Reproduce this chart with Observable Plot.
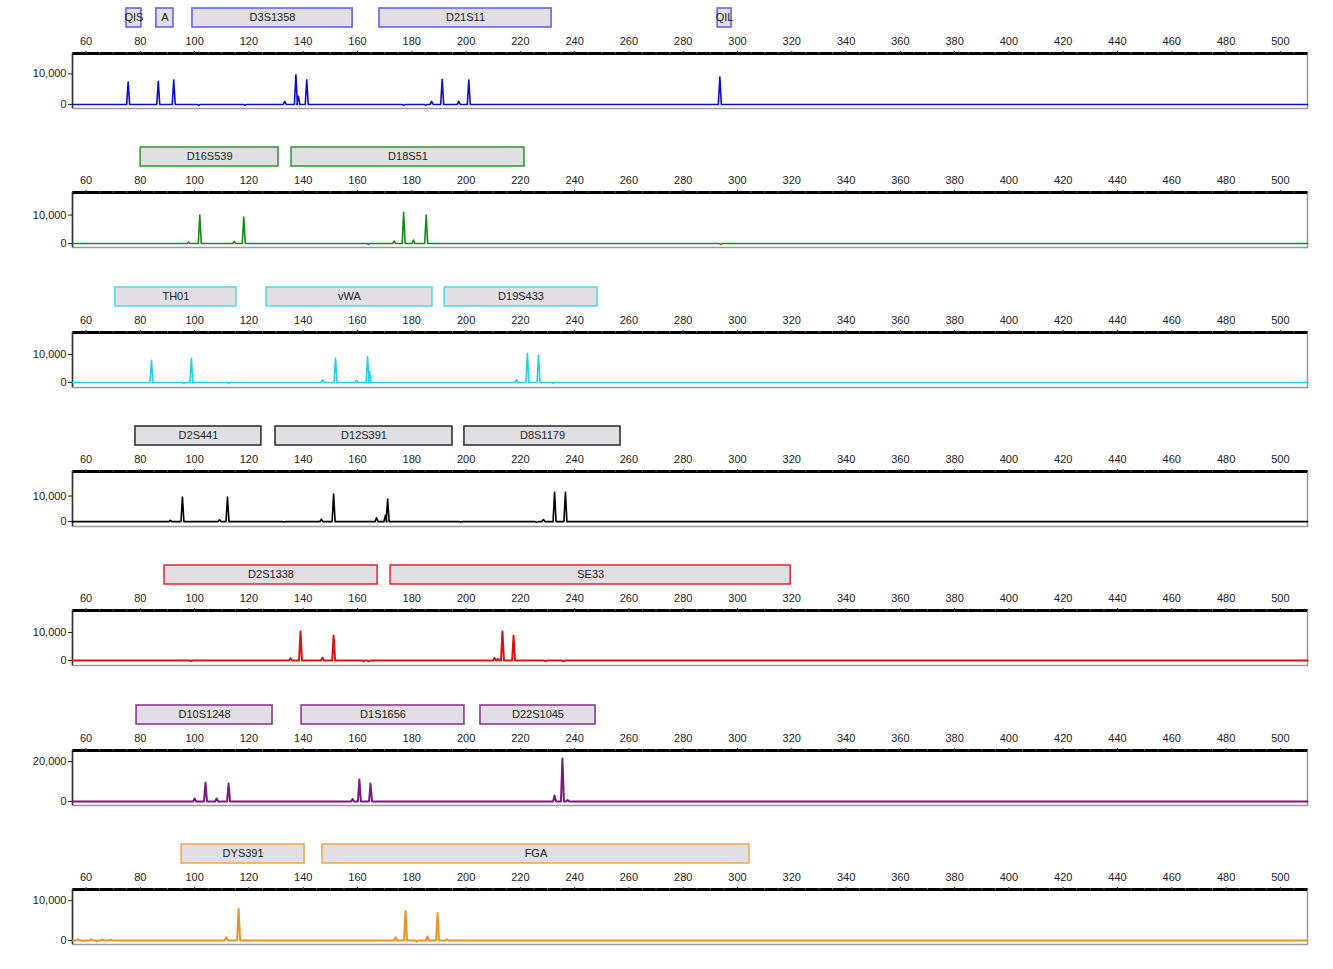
<!DOCTYPE html>
<html><head><meta charset="utf-8">
<script src="https://cdn.jsdelivr.net/npm/d3@7"></script>
<script src="https://cdn.jsdelivr.net/npm/@observablehq/plot@0.6"></script>
<style>
body{margin:0;background:#fff;}
#chart{position:relative;width:1333px;height:969px;overflow:hidden;}
#chart svg{position:absolute;left:0;}
</style></head><body><div id="chart"></div>
<script>
// ---- axis ticks ----
const sizeTicks = d3.range(60, 501, 20);
const minorTicks = d3.range(55, 511, 5);

// ---- panel 1 (blue) ----
const blueMarkerName  = ["QIS", "A", "D3S1358", "D21S11", "QIL"];
const blueMarkerStart = [74.9, 85.9, 99.2, 168.1, 292.7];
const blueMarkerEnd   = [80.4, 92.2, 158.2, 231.5, 297.8];
const bluePeakSize    = [75.5, 86.6, 92.3, 101.5, 118.5, 133.2, 137.3, 138.2, 141.3, 177.0, 185.1, 187.3, 191.2, 197.3, 201.0, 293.5];
const bluePeakHeight  = [7300, 7600, 8000, -300, -300, 1000, 9700, 2700, 8100, -300, -300, 1000, 8200, 1000, 8000, 9000];

// ---- panel 2 (green) ----
const greenMarkerName  = ["D16S539", "D18S51"];
const greenMarkerStart = [80.1, 135.7];
const greenMarkerEnd   = [130.9, 221.5];
const greenPeakSize    = [97.8, 101.9, 114.6, 118.1, 164.0, 173.5, 177.0, 180.6, 185.3, 293.8];
const greenPeakHeight  = [500, 10000, 800, 9300, -200, 900, 11000, 1200, 10000, -300];

// ---- panel 3 (cyan) ----
const cyanMarkerName  = ["TH01", "vWA", "D19S433"];
const cyanMarkerStart = [70.8, 126.5, 192.1];
const cyanMarkerEnd   = [115.4, 187.6, 248.4];
const cyanPeakSize    = [84.1, 95.9, 98.8, 112.5, 147.1, 151.9, 159.6, 163.7, 164.4, 218.6, 222.6, 226.7, 232.2];
const cyanPeakHeight  = [7900, -300, 8600, -300, 900, 8600, 800, 9300, 4000, 1000, 10400, 9600, -300];

// ---- panel 4 (black) ----
const blackMarkerName  = ["D2S441", "D12S391", "D8S1179"];
const blackMarkerStart = [78.2, 129.8, 199.4];
const blackMarkerEnd   = [124.6, 195.0, 256.9];
const blackPeakSize    = [91.1, 95.5, 109.2, 112.1, 133.0, 146.7, 151.2, 167.0, 170.3, 171.1, 198.0, 226.0, 228.5, 232.6, 236.6];
const blackPeakHeight  = [500, 9600, 700, 9600, -200, 1000, 10800, 1500, 2500, 8800, -200, -300, 800, 11500, 11500];

// ---- panel 5 (red) ----
const redMarkerName  = ["D2S1338", "SE33"];
const redMarkerStart = [88.9, 172.2];
const redMarkerEnd   = [167.4, 319.6];
const redPeakSize    = [98.8, 135.3, 139.0, 147.1, 151.2, 162.2, 164.1, 210.5, 211.8, 213.4, 217.5, 229.3, 235.9];
const redPeakHeight  = [-200, 800, 10400, 1000, 8900, -300, -300, 900, 500, 10400, 8900, -300, -300];

// ---- panel 6 (purple) ----
const purpleMarkerName  = ["D10S1248", "D1S1656", "D22S1045"];
const purpleMarkerStart = [78.6, 139.4, 205.3];
const purpleMarkerEnd   = [128.7, 199.4, 247.7];
const purplePeakSize    = [100.0, 104.0, 108.1, 112.5, 158.2, 160.7, 164.8, 232.6, 235.5, 237.4];
const purplePeakHeight  = [1500, 9500, 1500, 9000, 1200, 11000, 9000, 3000, 21500, 700];

// ---- panel 7 (orange) ----
const orangeMarkerName  = ["DYS391", "FGA"];
const orangeMarkerStart = [95.2, 147.1];
const orangeMarkerEnd   = [140.5, 304.4];
const orangePeakSize    = [57, 59, 62, 64, 66, 69, 111.7, 116.2, 174.0, 177.7, 181.8, 185.8, 189.5, 193.0];
const orangePeakHeight  = [300, -200, 300, -200, 300, 200, 800, 7900, 800, 7400, -300, 1000, 6900, 300];

// ---- build panels ----
function markers(names, starts, ends) {
  return names.map((name, i) => ({name, start: starts[i], end: ends[i]}));
}
function trace(sizes, heights) {
  const w = 0.55;
  const pk = sizes.map((s, i) => ({s, h: heights[i]})).sort((a, b) => a.s - b.s);
  const pts = [{x: 55, y: 0}];
  for (const p of pk) pts.push({x: p.s - w, y: 0}, {x: p.s, y: p.h}, {x: p.s + w, y: 0});
  pts.push({x: 510, y: 0});
  return pts;
}

const panels = [
  {m: markers(blueMarkerName, blueMarkerStart, blueMarkerEnd), t: trace(bluePeakSize, bluePeakHeight),
   color: "#0c0cd0", box: "#6464ec", sw: 1.6, y: [-1333, 16667], yt: [0, 10000]},
  {m: markers(greenMarkerName, greenMarkerStart, greenMarkerEnd), t: trace(greenPeakSize, greenPeakHeight),
   color: "#168a16", box: "#3a9a3a", sw: 1.6, y: [-1379, 17931], yt: [0, 10000]},
  {m: markers(cyanMarkerName, cyanMarkerStart, cyanMarkerEnd), t: trace(cyanPeakSize, cyanPeakHeight),
   color: "#1ed2ea", box: "#5cd6ea", sw: 1.6, y: [-1786, 17857], yt: [0, 10000]},
  {m: markers(blackMarkerName, blackMarkerStart, blackMarkerEnd), t: trace(blackPeakSize, blackPeakHeight),
   color: "#000000", box: "#333333", sw: 1.6, y: [-1923, 19615], yt: [0, 10000]},
  {m: markers(redMarkerName, redMarkerStart, redMarkerEnd), t: trace(redPeakSize, redPeakHeight),
   color: "#e01010", box: "#e63038", sw: 2, y: [-1786, 17857], yt: [0, 10000]},
  {m: markers(purpleMarkerName, purpleMarkerStart, purpleMarkerEnd), t: trace(purplePeakSize, purplePeakHeight),
   color: "#7c1a7c", box: "#8c3a8c", sw: 2, y: [-2000, 25500], yt: [0, 20000]},
  {m: markers(orangeMarkerName, orangeMarkerStart, orangeMarkerEnd), t: trace(orangePeakSize, orangePeakHeight),
   color: "#ee9228", box: "#f0a85c", sw: 2, y: [-1026, 12821], yt: [0, 10000]}
];

const chart = document.getElementById("chart");
const marginTop = 53, frameH = 55, marginBottom = 6;

panels.forEach((p, i) => {
  const svg = Plot.plot({
    width: 1333,
    height: marginTop + frameH + marginBottom,
    marginLeft: 72, marginRight: 26, marginTop, marginBottom,
    style: {fontFamily: "'Liberation Sans', Arial, sans-serif", fontSize: "11px", color: "#222", background: "transparent"},
    x: {domain: [55, 510], label: null},
    y: {domain: p.y, label: null},
    marks: [
      Plot.frame({stroke: "#9a9a9a", strokeWidth: 1.5}),
      Plot.ruleX([55], {stroke: "#333", strokeWidth: 1.5}),
      Plot.line(p.t, {x: "x", y: "y", stroke: p.color, strokeWidth: p.sw, strokeLinejoin: "round"}),
      Plot.ruleY([p.y[1]], {stroke: "#000", strokeWidth: 3}),
      Plot.axisX({anchor: "top", ticks: minorTicks, tickSize: 2, text: null, label: null, stroke: "#555"}),
      Plot.axisX({anchor: "top", ticks: sizeTicks, tickSize: 3, tickPadding: 6, label: null, fill: "#222"}),
      Plot.axisY({ticks: p.yt, tickSize: 4, tickPadding: 2, label: null, tickFormat: d3.format(","), fill: "#222"}),
      Plot.rect(p.m, {x1: "start", x2: "end", insetTop: -45, insetBottom: frameH + 26,
                      fill: "#e1dfe4", stroke: p.box, strokeWidth: 1.6}),
      Plot.text(p.m, {x: d => (d.start + d.end) / 2, text: "name", frameAnchor: "top", dy: -40,
                      fill: "#222", fontSize: 11})
    ]
  });
  svg.style.top = Math.round(i * 139.33) + "px";
  chart.appendChild(svg);
});
</script></body></html>
